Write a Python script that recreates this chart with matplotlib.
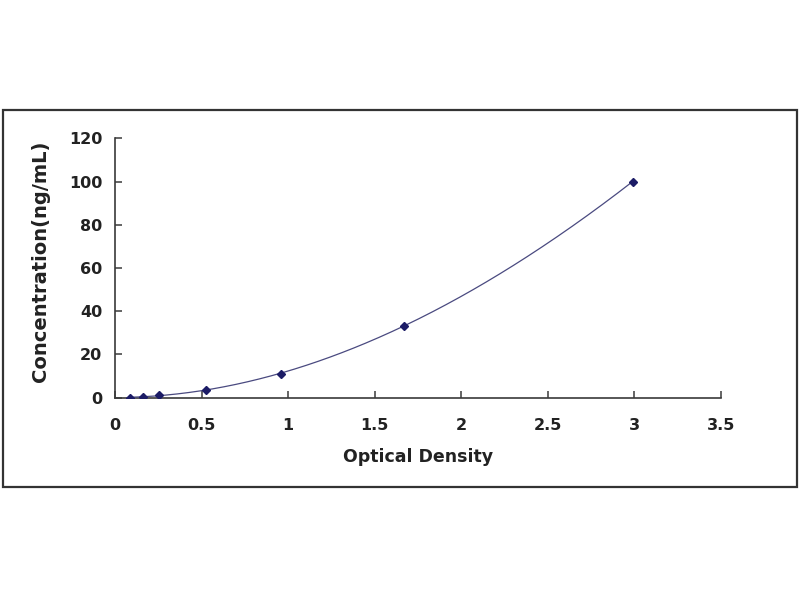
import numpy as np
import matplotlib
matplotlib.use("Agg")
import matplotlib.pyplot as plt
from matplotlib.patches import Rectangle

# Data
od = [0.087, 0.164, 0.256, 0.524, 0.959, 1.67, 2.99]
conc = [0.0, 0.41, 1.23, 3.70, 11.11, 33.33, 100.0]
x_ticks = [0, 0.5, 1, 1.5, 2, 2.5, 3, 3.5]
x_tick_labels = ["0", "0.5", "1", "1.5", "2", "2.5", "3", "3.5"]
y_ticks = [0, 20, 40, 60, 80, 100, 120]

plt.rcParams['font.family'] = ['DejaVu Sans']

fig = plt.figure(figsize=(8, 6), dpi=100)
fig.patch.set_facecolor('white')
ax = fig.add_axes([115/800, 1-397.7/600, (721-115)/800, (397.7-138.3)/600])

# fitted trend line (cubic polynomial through the standards)
coef = np.polyfit(od, conc, 3)
xs = np.linspace(min(od), max(od), 300)
ax.plot(xs, np.polyval(coef, xs), color='#4a4a80', lw=0.9, zorder=2)
ax.plot(od, conc, linestyle='none', marker='D', markersize=4.2,
        color='#1c1c66', zorder=3)

ax.set_xlim(0, 3.5)
ax.set_ylim(0, 120)
ax.set_xticks(x_ticks)
ax.set_xticklabels(x_tick_labels)
ax.set_yticks(y_ticks)

for s in ['top', 'right']:
    ax.spines[s].set_visible(False)
for s in ['left', 'bottom']:
    ax.spines[s].set_color('#3a3a3a')
    ax.spines[s].set_linewidth(1.2)
ax.spines['left'].set_zorder(1)
ax.spines['bottom'].set_zorder(1)

ax.tick_params(axis='x', direction='in', length=5, width=1.1, color='#3a3a3a',
               pad=14.5, labelsize=11.5, labelcolor='#222222')
ax.tick_params(axis='y', direction='in', length=5, width=1.1, color='#3a3a3a',
               pad=9, labelsize=11.5, labelcolor='#222222')
for lab in ax.get_xticklabels() + ax.get_yticklabels():
    lab.set_fontweight('bold')

ax.set_xlabel('Optical Density', fontsize=12.5, fontweight='bold',
              color='#222222', labelpad=11)
ax.set_ylabel('Concentration(ng/mL)', fontsize=14, fontweight='bold',
              color='#222222')
ax.yaxis.set_label_coords(-0.107, 0.527)

# outer frame
fig.add_artist(Rectangle((3/800, 1-487/600), 794/800, 377/600,
                         transform=fig.transFigure, fill=False,
                         edgecolor='#333333', linewidth=1.6))

fig.savefig('out.png', dpi=100, facecolor='white')
